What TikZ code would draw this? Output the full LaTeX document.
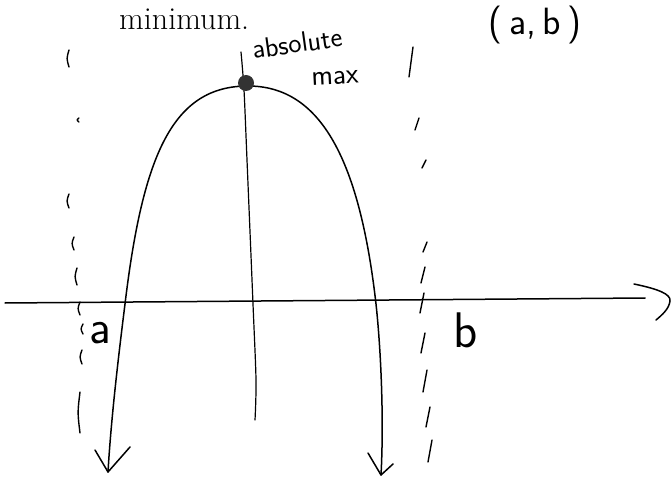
\documentclass[tikz,border=0pt]{standalone}
\usepackage{fontspec}
\begin{document}
\begin{tikzpicture}[x=1pt,y=-1pt, line cap=round, line join=round,
  ink/.style={line width=1.5pt},
  thinink/.style={line width=1.2pt},
  dashmark/.style={line width=1.4pt},
  hand/.style={font=\sffamily, inner sep=0pt}]
\useasboundingbox (0,0) rectangle (671,478);
% printed text
\node[anchor=base west, inner sep=0pt, font=\fontsize{32}{34}\selectfont] (minim) at (119,30) {minimum.};
% x-axis
\coordinate (axL) at (5,303);
\coordinate (axR) at (645,298);
\draw[ink] (axL) -- (axR);
\coordinate (ah1) at (634,284);
\coordinate (ah2) at (670,301);
\coordinate (ah3) at (656,320);
\draw[ink] (ah1) .. controls (658,289) and (671,294) .. (ah2) .. controls (669,309) and (662,315) .. (ah3);
% parabola
\coordinate (lt) at (108,472);
\coordinate (rt) at (381,475);
\coordinate (lx) at (125,304);
\coordinate (rx) at (376,304);
\coordinate (top) at (248,86);
\draw[ink] (lt) .. controls (111,420) and (118,360) .. (lx)
  .. controls (143,154) and (173,86) .. (top)
  .. controls (318,86) and (359,154) .. (rx)
  .. controls (381,350) and (384,420) .. (rt);
% arrow heads of the branches
\draw[ink] (95,450) -- (lt) -- (130,447);
\draw[ink] (368,453) -- (rt) -- (393,464);
% middle vertical line
\draw[thinink] plot[smooth] coordinates {(241,52) (244,90) (247,160) (253,304) (256,380) (255,420)};
% absolute max point
\node[circle, fill=black!80, minimum size=16pt, inner sep=0pt] (dot) at (246,83) {};
% dashed lines
\foreach \x/\a/\b in {68/50/67, 78/118/122, 68/194/208, 73/237/250, 76/268/285, 79/302/315, 82/324/334, 81/350/364, 79/392/433}
  \draw[dashmark] ({\x+1},\a) .. controls ({\x-1.5},{(\a+\b)/2}) .. ({\x+1},\b);
\foreach \x/\a/\b in {411/47/77, 417/118/130, 424/160/168, 425/242/252, 423/267/283, 422/293/313, 423/333/353, 425/370/392, 428/407/427, 430/440/462}
  \draw[dashmark] ({\x+2},\a) -- ({\x-2},\b);
% handwritten labels
\node[hand, font=\sffamily\fontsize{28}{30}\selectfont, rotate=8] (abs) at (297,43) {absolute};
\node[hand, font=\sffamily\fontsize{29}{30}\selectfont, rotate=3] (mx) at (335,78) {max};
\node[hand, font=\sffamily\fontsize{38}{38}\selectfont] (ab) at (535,25) {(\,a,\,b\,)};
\node[hand, font=\sffamily\fontsize{48}{48}\selectfont, anchor=base] (la) at (100,343) {a};
\node[hand, font=\sffamily\fontsize{50}{50}\selectfont, anchor=base] (lb) at (466,347) {b};
\end{tikzpicture}
\end{document}
